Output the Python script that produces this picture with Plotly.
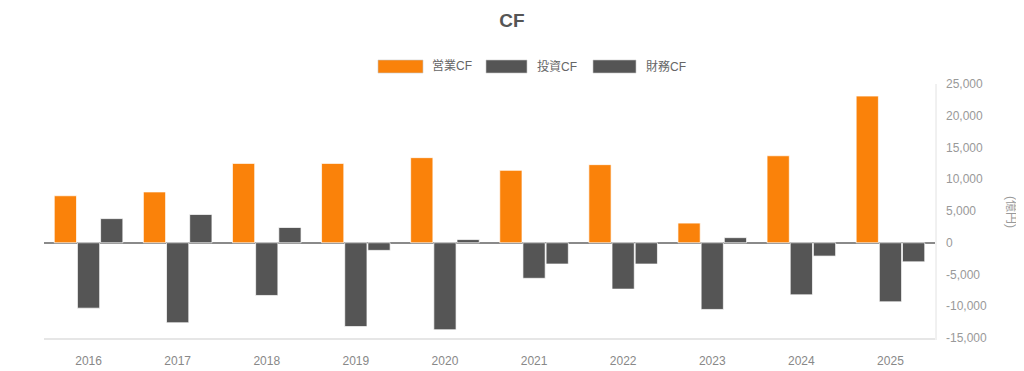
import plotly.graph_objects as go

years = ["2016", "2017", "2018", "2019", "2020", "2021", "2022", "2023", "2024", "2025"]
operating_cf = [7400, 8000, 12500, 12500, 13400, 11400, 12300, 3100, 13700, 23100]
investing_cf = [-10300, -12600, -8300, -13200, -13700, -5600, -7300, -10500, -8200, -9300]
financing_cf = [3800, 4450, 2400, -1200, 500, -3350, -3350, 800, -2100, -3000]

series_names = ["営業CF", "投資CF", "財務CF"]
series_colors = ["#FA820A", "#555555", "#555555"]
series_values = [operating_cf, investing_cf, financing_cf]

tick_vals = [-15000, -10000, -5000, 0, 5000, 10000, 15000, 20000, 25000]
tick_text = ["-15,000", "-10,000", "-5,000", "0", "5,000", "10,000", "15,000", "20,000", "25,000"]

FONT = "Liberation Sans, Noto Sans CJK JP, sans-serif"
OFF = 8  # page body margin offset
W, H = 1024 - OFF - 2, 371 - OFF - 2
# plot area in reference (window) pixel coordinates
PX0, PX1, PY0, PY1 = 44, 935, 84, 338
L = PX0 - OFF
T = PY0 - OFF
R = W - (PX1 - OFF)
B = H - (PY1 - OFF)
pw, ph = PX1 - PX0, PY1 - PY0

def px_x(p):
    return (p - PX0) / pw

def px_y(p):
    return (PY1 - p) / ph

fig = go.Figure()
for name, color, vals in zip(series_names, series_colors, series_values):
    fig.add_trace(go.Bar(
        x=years, y=vals, name=name,
        marker=dict(color=color, line=dict(color="rgba(255,255,255,0.7)", width=1)),
        showlegend=False,
    ))

# custom legend (wide swatches)
legend_items = [(378, 423, 430), (486, 527, 535), (593, 636, 644)]
shapes = []
annotations = []
for (x0, x1, tx), name, color in zip(legend_items, series_names, series_colors):
    shapes.append(dict(type="rect", xref="paper", yref="paper",
                       x0=px_x(x0), x1=px_x(x1), y0=px_y(73), y1=px_y(60),
                       fillcolor=color, line=dict(color="rgba(200,200,200,0.6)", width=1)))
    annotations.append(dict(text=name, xref="paper", yref="paper", x=px_x(tx), y=px_y(66.5),
                            xanchor="left", yanchor="middle", showarrow=False,
                            font=dict(family=FONT, size=12, color="#666666")))

annotations.append(dict(text="(億円)", xref="paper", yref="paper", x=px_x(1011), y=px_y(212),
                        xanchor="center", yanchor="middle", showarrow=False, textangle=90,
                        font=dict(family=FONT, size=12, color="#999999")))

# right axis line
shapes.append(dict(type="line", xref="paper", yref="paper", x0=px_x(936), x1=px_x(936),
                   y0=px_y(84), y1=px_y(340), line=dict(color="#e2e2e2", width=1)))

fig.update_layout(
    width=W, height=H,
    margin=dict(l=L, r=R, t=T, b=B, pad=0, autoexpand=False),
    paper_bgcolor="white", plot_bgcolor="white",
    title=dict(text="<b>CF</b>", x=(512 - OFF) / W, xanchor="center",
               y=1 - (20 - OFF) / H, yanchor="middle",
               font=dict(family=FONT, size=19, color="#555555")),
    barmode="group", bargap=0.22, bargroupgap=0.04,
    shapes=shapes, annotations=annotations,
    font=dict(family=FONT),
)
fig.update_xaxes(type="category", range=[-0.5, 9.5], showgrid=False, zeroline=False,
                 automargin=False,
                 showline=True, linecolor="#e6e6e6", linewidth=1.5,
                 ticks="", tickfont=dict(family=FONT, size=12, color="#888888"),
                 ticklabelstandoff=11)
fig.update_yaxes(side="right", range=[-15000, 25000], tickvals=tick_vals, ticktext=tick_text,
                 automargin=False,
                 showgrid=False, zeroline=True, zerolinecolor="#8a8a8a", zerolinewidth=1.5,
                 showline=False, ticks="", ticklabelstandoff=10,
                 tickfont=dict(family=FONT, size=12, color="#999999"))

fig.write_html("out.html")
